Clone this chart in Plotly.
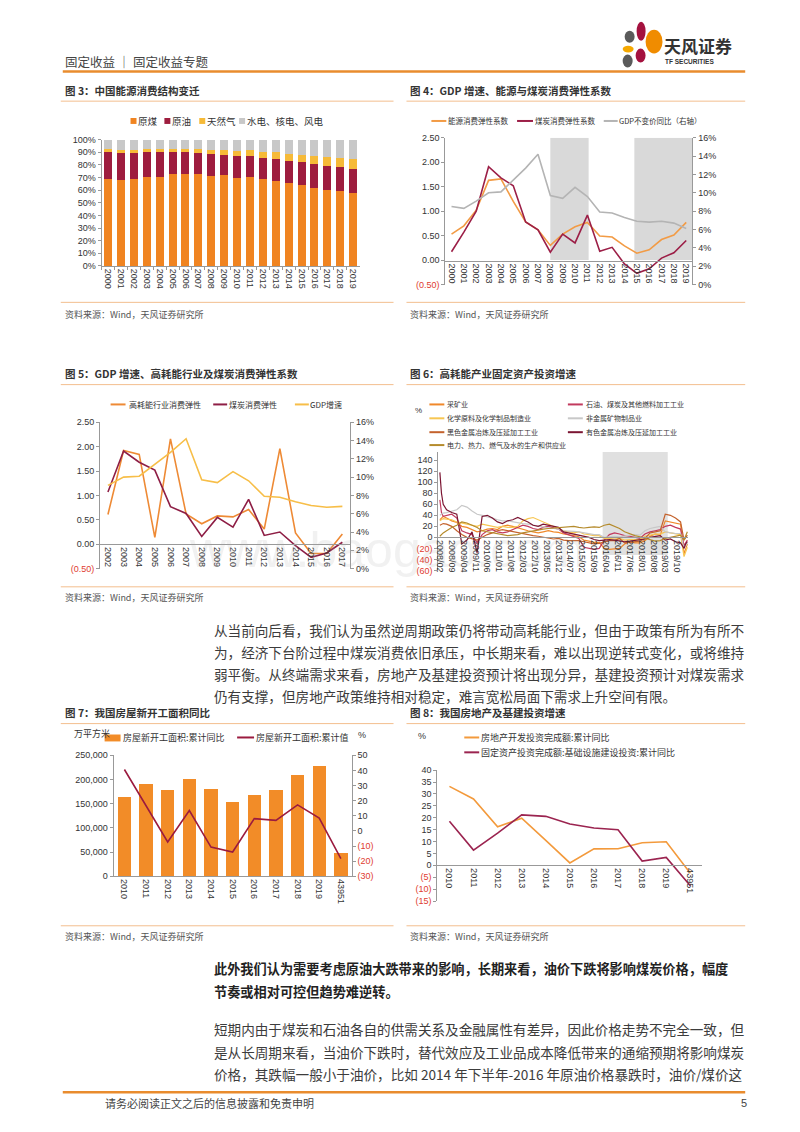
import plotly.graph_objects as go

W, H = 800, 1132
def X(p): return p / W
def Y(p): return 1 - p / H

# ---------------- DATA ----------------
# Chart 3: energy consumption structure (%)
years3 = ["2000","2001","2002","2003","2004","2005","2006","2007","2008","2009",
          "2010","2011","2012","2013","2014","2015","2016","2017","2018","2019"]
coal3  = [68.5,68.0,68.5,70.2,70.2,72.4,72.4,72.5,71.5,71.6,69.2,70.2,68.5,67.4,65.6,63.7,62.0,60.4,59.0,57.7]
oil3   = [22.0,21.2,21.0,20.1,19.9,17.8,17.5,17.0,16.7,16.4,17.4,16.8,17.0,17.1,17.4,18.3,18.5,18.8,18.9,18.9]
gas3   = [2.2,2.4,2.3,2.3,2.3,2.4,2.7,3.0,3.4,3.5,4.0,4.6,4.8,5.3,5.7,5.9,6.2,7.0,7.8,8.1]
other3 = [7.3,8.4,8.2,7.4,7.6,7.4,7.4,7.5,8.4,8.5,9.4,8.4,9.7,10.2,11.3,12.1,13.3,13.8,14.3,15.3]

# Chart 4
years4 = [2000,2001,2002,2003,2004,2005,2006,2007,2008,2009,2010,2011,2012,2013,2014,2015,2016,2017,2018,2019]
energy4 = [0.53,0.70,1.02,1.63,1.66,1.20,0.78,0.62,0.30,0.53,0.68,0.77,0.49,0.47,0.29,0.14,0.21,0.42,0.51,0.77]
coal4   = [0.17,0.57,1.00,1.91,1.68,1.52,0.78,0.62,0.16,0.53,0.35,0.92,0.18,0.26,-0.08,-0.27,-0.18,0.04,0.15,0.40]
gdp4    = [8.5,8.3,9.1,10.0,10.1,11.4,12.7,14.2,9.7,9.4,10.6,9.6,7.9,7.8,7.3,6.9,6.8,6.9,6.7,6.1]
shade4_start = [2008, 2014.8]
shade4_end   = [2011.1, 2019.5]

# Chart 5
years5 = [2002,2003,2004,2005,2006,2007,2008,2009,2010,2011,2012,2013,2014,2015,2016,2017]
high5 = [0.61,1.92,1.84,0.14,2.16,0.62,0.42,0.58,0.56,0.71,0.31,1.96,0.23,-0.19,-0.19,0.21]
coal5 = [1.07,1.91,1.68,1.52,0.77,0.63,0.16,0.55,0.35,0.92,0.18,0.25,-0.03,-0.27,-0.18,0.04]
gdp5  = [9.1,10.0,10.1,11.4,12.7,14.2,9.7,9.4,10.6,9.6,7.9,7.8,7.3,6.9,6.7,6.8]

# Chart 6: FAI growth by industry (%)
dates6 = ["2008-02","2008-03","2008-04","2008-06","2008-09","2008-12",
          "2009-03","2009-06","2009-09","2009-12","2010-03","2010-06","2010-09","2010-12",
          "2011-03","2011-06","2011-09","2011-12","2012-03","2012-06","2012-09","2012-12",
          "2013-03","2013-06","2013-09","2013-12","2014-03","2014-06","2014-09","2014-12",
          "2015-03","2015-06","2015-09","2015-12","2016-03","2016-06","2016-09","2016-12",
          "2017-03","2017-06","2017-09","2017-12","2018-03","2018-06","2018-09","2018-12",
          "2019-03","2019-06","2019-09","2019-12","2020-02","2020-03","2020-04"]
mining6 = [32,36,38,35,30,27,20,18,14,10,12,15,16,14,20,22,20,17,15,12,10,8,10,12,10,9,6,5,3,1,
           -5,-7,-9,-9,-20,-22,-21,-20,-12,-8,-10,-10,-6,2,6,4,30,28,27,24,-30,-20,-12]
petro6  = [68,45,38,40,42,35,12,8,5,-10,5,12,14,10,8,10,14,18,22,20,16,14,18,20,18,15,8,5,2,-2,
           -18,-20,-22,-20,-5,5,8,6,3,2,0,-2,6,10,12,14,20,22,18,15,-15,-10,-5]
chem6   = [30,32,34,33,32,28,26,24,22,20,24,22,20,18,20,18,18,20,30,34,36,32,28,24,20,16,12,10,8,10,
           6,5,3,3,-2,-2,-3,-2,-5,-4,-4,-4,2,4,6,6,10,8,6,5,-35,-28,-18]
nonmet6 = [40,42,44,45,48,50,58,55,48,42,40,38,35,32,30,30,28,27,25,24,22,20,18,17,16,15,12,12,11,10,
           8,6,5,5,0,1,2,1,3,4,5,4,12,16,18,20,10,8,7,7,-20,-15,-10]
ferrous6 = [22,24,25,24,20,12,5,0,-3,-5,0,5,8,12,14,12,10,8,6,5,3,2,0,-2,-3,-2,-5,-6,-6,-6,
            -8,-10,-12,-11,-8,-6,-6,-2,-10,-9,-9,-7,-2,8,10,12,42,40,35,28,-5,0,4]
nonfer6 = [118,80,60,50,45,42,-12,-5,10,-28,38,40,35,28,25,30,32,36,32,28,22,20,24,22,20,18,10,8,6,4,
           2,0,-4,-6,-5,-4,-5,-6,-8,-7,-6,-5,-3,0,2,3,-5,-3,-8,-10,-20,-12,-8]
power6  = [2,5,8,12,18,22,28,26,22,18,12,10,8,6,4,3,4,5,8,10,12,14,15,16,17,18,18,19,20,18,
           17,18,19,18,22,24,20,16,10,6,3,1,-2,-5,-7,-6,-2,0,2,4,-5,4,10]
names6 = ["采矿业","石油、煤炭及其他燃料加工工业","化学原料及化学制品制造业","非金属矿物制品业",
          "黑色金属冶炼及压延加工工业","有色金属冶炼及压延加工工业","电力、热力、燃气及水的生产和供应业"]
shade6 = ["2016-02-01", "2019-04-15"]
ticks6 = [-60,-40,-20,0,20,40,60,80,100,120,140]

# Chart 7
cats7 = ["2010","2011","2012","2013","2014","2015","2016","2017","2018","2019","43951"]
area7 = [163647,191237,177334,201208,179592,154454,166928,178654,209342,227154,48852]
yoy7  = [40.6,16.2,-7.3,13.5,-10.7,-14.0,8.1,7.0,17.2,8.5,-18.4]

# Chart 8
cats8 = ["2010","2011","2012","2013","2014","2015","2016","2017","2018","2019","43951"]
realestate8 = [33.2,27.9,16.2,19.8,10.5,1.0,6.9,7.0,9.5,9.9,-3.3]
infra8      = [18.5,6.4,13.5,21.2,20.6,17.4,15.7,15.0,1.8,3.3,-8.6]

# ---------------- STYLE ----------------
C_COAL, C_OIL, C_GAS, C_OTH = "#F08421", "#9E1D3E", "#F6BA38", "#C8C8C8"
RED = "#E03C31"
CJK = "Noto Sans CJK SC"
NUM = "Liberation Sans"
TF = dict(family=NUM, size=9, color="#333")

def neg_label(v, fmt):
    if v < 0:
        return '<span style="color:%s">(%s)</span>' % (RED, fmt % abs(v))
    return fmt % v

fig = go.Figure()

# Chart 3 bars
for vals, col, nm in [(coal3, C_COAL, "原煤"), (oil3, C_OIL, "原油"), (gas3, C_GAS, "天然气"), (other3, C_OTH, "水电、核电、风电")]:
    fig.add_trace(go.Bar(x=years3, y=vals, marker=dict(color=col, line=dict(width=0)), name=nm,
                         xaxis="x", yaxis="y", showlegend=False))

# Chart 4 lines
fig.add_trace(go.Scatter(x=years4, y=energy4, mode="lines", line=dict(color="#F29B45", width=1.6), xaxis="x2", yaxis="y2", showlegend=False))
fig.add_trace(go.Scatter(x=years4, y=coal4, mode="lines", line=dict(color="#9C1F47", width=1.6), xaxis="x2", yaxis="y2", showlegend=False))
fig.add_trace(go.Scatter(x=years4, y=gdp4, mode="lines", line=dict(color="#B4B4B4", width=1.6), xaxis="x2", yaxis="y3", showlegend=False))

# Chart 5 lines
fig.add_trace(go.Scatter(x=years5, y=high5, mode="lines", line=dict(color="#EE8A35", width=1.6), xaxis="x3", yaxis="y4", showlegend=False))
fig.add_trace(go.Scatter(x=years5, y=coal5, mode="lines", line=dict(color="#8E1E45", width=1.6), xaxis="x3", yaxis="y4", showlegend=False))
fig.add_trace(go.Scatter(x=years5, y=gdp5, mode="lines", line=dict(color="#F7BE48", width=1.6), xaxis="x3", yaxis="y5", showlegend=False))

# Chart 6 lines
cols6 = ["#F0882A", "#C23A5E", "#F7C652", "#C8C8C8", "#C4622C", "#7B1532", "#B58B2C"]
series6 = [mining6, petro6, chem6, nonmet6, ferrous6, nonfer6, power6]
for s, c, n in zip(series6, cols6, names6):
    fig.add_trace(go.Scatter(x=dates6, y=s, mode="lines", line=dict(color=c, width=1.2), name=n,
                             xaxis="x4", yaxis="y6", showlegend=False))

# Chart 7
fig.add_trace(go.Bar(x=cats7, y=area7, marker=dict(color="#F28C28", line=dict(width=0)), xaxis="x5", yaxis="y7", showlegend=False))
fig.add_trace(go.Scatter(x=cats7, y=yoy7, mode="lines", line=dict(color="#9B1B3F", width=1.6), xaxis="x5", yaxis="y8", showlegend=False))

# Chart 8
fig.add_trace(go.Scatter(x=cats8, y=realestate8, mode="lines", line=dict(color="#F39A3C", width=1.6), xaxis="x6", yaxis="y9", showlegend=False))
fig.add_trace(go.Scatter(x=cats8, y=infra8, mode="lines", line=dict(color="#9B2450", width=1.6), xaxis="x6", yaxis="y9", showlegend=False))

AX = dict(showgrid=False, zeroline=False, showline=True, linecolor="#999", linewidth=1,
          ticks="outside", ticklen=3, tickcolor="#999", tickfont=TF, fixedrange=True)

t4 = [-0.5, 0, 0.5, 1.0, 1.5, 2.0, 2.5]
t7r = [-30, -20, -10, 0, 10, 20, 30, 40, 50]
t8 = [-15, -10, -5, 0, 5, 10, 15, 20, 25, 30, 35, 40]

layout = dict(
    width=W, height=H, margin=dict(l=0, r=0, t=0, b=0),
    paper_bgcolor="white", plot_bgcolor="rgba(0,0,0,0)",
    barmode="stack", bargap=0.38, showlegend=False,
    font=dict(family=CJK, color="#333"),
    # chart 3
    xaxis=dict(AX, domain=[X(99), X(358)], anchor="y", type="category", range=[-0.5, 19.5],
               tickangle=90, tickson="boundaries"),
    yaxis=dict(AX, domain=[Y(263.3), Y(135.7)], anchor="x", range=[0, 100], dtick=10, ticksuffix="%"),
    # chart 4
    xaxis2=dict(AX, domain=[X(444), X(692)], anchor="free", position=Y(258), range=[1999.5, 2019.5],
                tickmode="linear", tick0=2000, dtick=1, tickangle=90, tickformat="d", ticks=""),
    yaxis2=dict(AX, domain=[Y(282), Y(134)], anchor="x2", range=[-0.5, 2.5],
                tickvals=t4, ticktext=[neg_label(v, "%.2f") for v in t4]),
    yaxis3=dict(AX, domain=[Y(282), Y(134)], anchor="x2", overlaying="y2", side="right",
                range=[0, 16], dtick=2, ticksuffix="%"),
    # chart 5
    xaxis3=dict(AX, domain=[X(97.5), X(348.5)], anchor="free", position=Y(544), range=[2001.5, 2017.5],
                tickmode="linear", tick0=2002, dtick=1, tickangle=90, tickformat="d", ticks=""),
    yaxis4=dict(AX, domain=[Y(568.6), Y(421)], anchor="x3", range=[-0.5, 2.5],
                tickvals=t4, ticktext=[neg_label(v, "%.2f") for v in t4]),
    yaxis5=dict(AX, domain=[Y(568.6), Y(421)], anchor="x3", overlaying="y4", side="right",
                range=[0, 16], dtick=2, ticksuffix="%"),
    # chart 6
    xaxis4=dict(AX, domain=[X(437), X(688)], anchor="free", position=Y(537), type="date",
                range=["2008-01-05", "2020-04-20"], tick0="2008-02-01", dtick="M7",
                tickformat="%Y/%m", tickangle=90, ticks="", tickfont=dict(family=NUM, size=9, color="#333")),
    yaxis6=dict(AX, domain=[Y(570.4), Y(451)], anchor="x4", range=[-60, 155],
                tickvals=ticks6, ticktext=[neg_label(v, "%d") for v in ticks6]),
    # chart 7
    xaxis5=dict(AX, domain=[X(111), X(350)], anchor="y7", type="category", range=[-0.5, 10.5],
                tickangle=90, ticks=""),
    yaxis7=dict(AX, domain=[Y(879), Y(757)], anchor="x5", range=[0, 250000], dtick=50000, tickformat=",d"),
    yaxis8=dict(AX, domain=[Y(879), Y(757)], anchor="x5", overlaying="y7", side="right",
                range=[-30, 50], tickvals=t7r, ticktext=[neg_label(v, "%d") for v in t7r]),
    # chart 8
    xaxis6=dict(AX, domain=[X(436), X(702)], anchor="free", position=Y(868), type="category",
                range=[-0.5, 10.5], tickangle=90, ticks=""),
    yaxis9=dict(AX, domain=[Y(904), Y(772)], anchor="x6", range=[-15, 40],
                tickvals=t8, ticktext=[neg_label(v, "%d") for v in t8]),
)

shapes = []
def hline(y, x0, x1, color, w):
    shapes.append(dict(type="line", xref="paper", yref="paper", x0=X(x0), x1=X(x1), y0=Y(y), y1=Y(y),
                       line=dict(color=color, width=w)))

ORANGE = "#E98C2E"
LIGHT = "#F3BE8E"
hline(67, 60, 745, ORANGE, 2.5)
hline(1097, 60, 745, ORANGE, 2.5)
for yy in (97, 383, 725, 300, 587, 929):
    hline(yy, 58, 392, LIGHT, 1)
    hline(yy, 405, 745, LIGHT, 1)

# chart 4 shading
for a, b in zip(shade4_start, shade4_end):
    shapes.append(dict(type="rect", xref="x2", yref="y2", x0=a, x1=b, y0=0, y1=2.5,
                       fillcolor="#D9D9D9", line=dict(width=0), layer="below"))
# chart 6 shading
shapes.append(dict(type="rect", xref="x4", yref="paper", x0=shade6[0], x1=shade6[1], y0=Y(555), y1=Y(451),
                   fillcolor="#E0E0E0", line=dict(width=0), layer="below"))

# logo petals
def ell(x0, y0, x1, y1, col):
    shapes.append(dict(type="circle", xref="paper", yref="paper", x0=X(x0), x1=X(x1), y0=Y(y1), y1=Y(y0),
                       fillcolor=col, line=dict(width=0)))
ell(624, 26, 634, 38, "#5A5A5A")
ell(636, 17, 645, 36, "#A4123F")
ell(645, 25, 662, 49, "#F08C00")
ell(622, 41, 633, 48, "#F5A800")
ell(635, 44, 645, 58, "#A4123F")
ell(622, 50, 632, 63, "#5A5A5A")

# legend markers (decoration)
def leg_line(x0, x1, y, col, w=2):
    shapes.append(dict(type="line", xref="paper", yref="paper", x0=X(x0), x1=X(x1), y0=Y(y), y1=Y(y),
                       line=dict(color=col, width=w)))
def leg_rect(x0, x1, y0, y1, col):
    shapes.append(dict(type="rect", xref="paper", yref="paper", x0=X(x0), x1=X(x1), y0=Y(y1), y1=Y(y0),
                       fillcolor=col, line=dict(width=0)))

# chart 3 legend
for xx, col in [(128, C_COAL), (162, C_OIL), (197, C_GAS), (237, C_OTH)]:
    leg_rect(xx, xx + 6, 114, 120, col)
# chart 4 legend
leg_line(430, 445, 117, "#F29B45"); leg_line(516, 532, 117, "#9C1F47"); leg_line(603, 617, 117, "#B4B4B4")
# chart 5 legend
leg_line(108, 123, 403, "#EE8A35"); leg_line(211, 225, 403, "#8E1E45"); leg_line(293, 307, 403, "#F7BE48")
# chart 6 legend
pos6 = [(428, 403), (567, 403), (428, 417), (567, 417), (428, 431), (567, 431), (428, 444)]
for (xx, yy), c in zip(pos6, cols6):
    leg_line(xx, xx + 15, yy, c)
# chart 7 legend
leg_rect(102, 118, 736, 743, "#F28C28"); leg_line(235, 252, 739, "#9B1B3F")
# chart 8 legend
leg_line(463, 478, 739, "#F39A3C"); leg_line(463, 478, 754, "#9B2450")

layout["shapes"] = shapes

ann = []
def T(x, y, s, size=10, color="#333", bold=False, anchor="left", fam=CJK):
    if bold:
        s = "<b>%s</b>" % s
    if anchor == "left":
        x = x - 3
    ann.append(dict(x=X(x), y=Y(y), xref="paper", yref="paper", text=s, showarrow=False,
                    xanchor=anchor, yanchor="middle", font=dict(family=fam, size=size, color=color)))

# header / logo
T(63, 57, "固定收益 ｜ 固定收益专题", 12.5, "#444")
T(664, 41, "天风证券", 17, "#333", bold=True)
T(665, 57, "TF SECURITIES", 6.5, "#333", bold=True, fam=NUM)

# titles
T(63, 86, "图 3：中国能源消费结构变迁", 10.5, "#333", bold=True)
T(410, 86, "图 4：GDP 增速、能源与煤炭消费弹性系数", 10.5, "#333", bold=True)
T(63, 372, "图 5：GDP 增速、高耗能行业及煤炭消费弹性系数", 10.5, "#333", bold=True)
T(410, 372, "图 6：高耗能产业固定资产投资增速", 10.5, "#333", bold=True)
T(63, 714, "图 7：我国房屋新开工面积同比", 10.5, "#333", bold=True)
T(410, 714, "图 8：我国房地产及基建投资增速", 10.5, "#333", bold=True)

# sources
for yy in (312, 598, 940):
    T(63, yy, "资料来源：Wind，天风证券研究所", 9, "#555")
    T(410, yy, "资料来源：Wind，天风证券研究所", 9, "#555")

# legend texts
T(137, 117, "原煤", 9.5); T(171, 117, "原油", 9.5); T(206, 117, "天然气", 9.5); T(246, 117, "水电、核电、风电", 9.5)
T(448, 117, "能源消费弹性系数", 7.5); T(535, 117, "煤炭消费弹性系数", 7.5); T(619, 117, "GDP不变价同比（右轴）", 7.5)
T(127, 403, "高耗能行业消费弹性", 8); T(228, 403, "煤炭消费弹性", 8); T(309, 403, "GDP增速", 8)
for (xx, yy), n in zip(pos6, names6):
    T(xx + 19, yy, n, 7)
T(415, 409, "%", 8, fam=NUM)
T(121, 739, "房屋新开工面积:累计同比", 9); T(255, 739, "房屋新开工面积:累计值", 9)
T(72, 735, "万平方米", 9); T(357, 737, "%", 9, fam=NUM)
T(481, 739, "房地产开发投资完成额:累计同比", 9); T(481, 754, "固定资产投资完成额:基础设施建设投资:累计同比", 9)
T(418, 738, "%", 9, fam=NUM)

# watermark
ann.append(dict(x=X(385), y=Y(550), xref="paper", yref="paper", text="www.baogao.com", showarrow=False,
                font=dict(family=NUM, size=50, color="rgba(170,170,170,0.16)")))

# body text
BODY = "#3C3C3C"
p1 = ["从当前向后看，我们认为虽然逆周期政策仍将带动高耗能行业，但由于政策有所为有所不",
      "为，经济下台阶过程中煤炭消费依旧承压，中长期来看，难以出现逆转式变化，或将维持",
      "弱平衡。从终端需求来看，房地产及基建投资预计将出现分异，基建投资预计对煤炭需求",
      "仍有支撑，但房地产政策维持相对稳定，难言宽松局面下需求上升空间有限。"]
for i, s in enumerate(p1):
    T(213, 631 + 22 * i, s, 13.6, BODY)
p2 = ["此外我们认为需要考虑原油大跌带来的影响，长期来看，油价下跌将影响煤炭价格，幅度",
      "节奏或相对可控但趋势难逆转。"]
for i, s in enumerate(p2):
    T(213, 972 + 23 * i, s, 13.2, "#222", bold=True)
p3 = ["短期内由于煤炭和石油各自的供需关系及金融属性有差异，因此价格走势不完全一致，但",
      "是从长周期来看，当油价下跌时，替代效应及工业品成本降低带来的通缩预期将影响煤炭",
      "价格，其跌幅一般小于油价，比如 2014 年下半年-2016 年原油价格暴跌时，油价/煤价这"]
for i, s in enumerate(p3):
    T(213, 1033 + 23 * i, s, 13.6, BODY)

T(103, 1108, "请务必阅读正文之后的信息披露和免责申明", 11, "#444")
T(742, 1108, "5", 11, "#444", fam=NUM)

layout["annotations"] = ann
fig.update_layout(**layout)
fig.write_html("out.html", config={"displayModeBar": False},
               post_script="document.body.style.margin='0px';document.body.style.overflow='hidden';")
